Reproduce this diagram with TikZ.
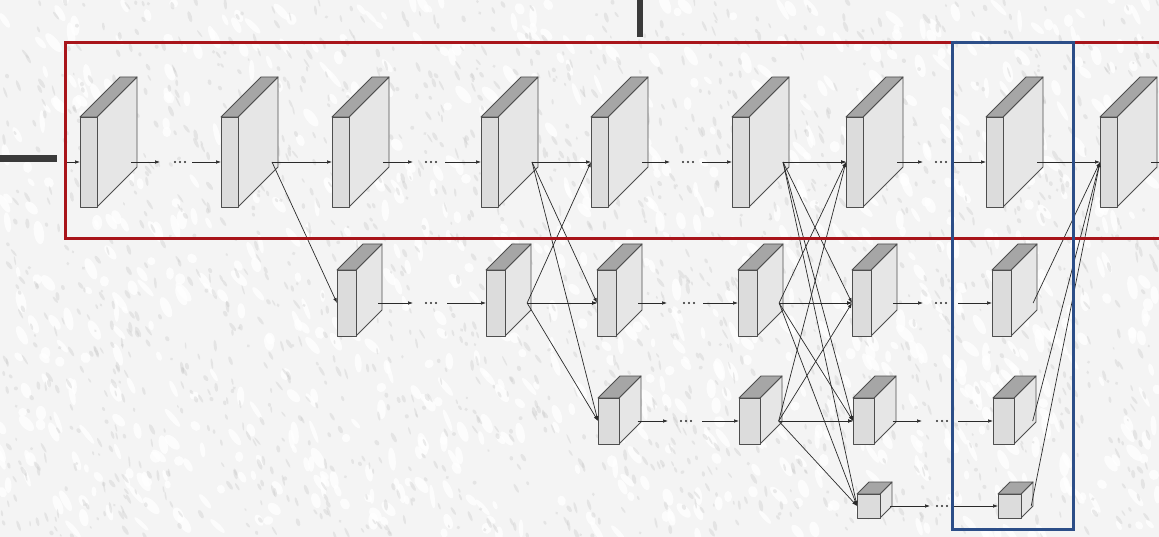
\documentclass[tikz,border=0pt]{standalone}
\usetikzlibrary{arrows.meta,calc}
\definecolor{faceF}{HTML}{DCDCDC}
\definecolor{faceS}{HTML}{E6E6E6}
\definecolor{faceT}{HTML}{A6A6A6}
\definecolor{edge}{HTML}{4E4E4E}
\definecolor{ink}{HTML}{2A2A2A}
\definecolor{stageRed}{HTML}{A8141A}
\definecolor{outBlue}{HTML}{2C4E88}
\definecolor{bar}{HTML}{3A3A3A}
\definecolor{wall}{HTML}{F4F4F4}
\definecolor{speck}{HTML}{C8C8C8}

\tikzset{
  facefront/.style={fill=faceF, draw=edge, line width=0.9pt, line join=round},
  faceside/.style={fill=faceS, draw=edge, line width=0.9pt, line join=round},
  facetop/.style={fill=faceT, draw=edge, line width=0.9pt, line join=round},
  conn/.style={draw=ink, line width=0.7pt, -{Latex[length=5pt,width=3.6pt]}},
  plainconn/.style={draw=ink, line width=0.7pt},
  stageframe/.style={draw=stageRed, line width=3pt},
  outframe/.style={draw=outBlue, line width=3pt},
  gapdot/.style={fill=ink},
}

% feature map block: name, left x, top y, width, height, depth
\newcommand\featmap[6]{%
  \filldraw[faceside] ({#2+#4},{#3}) -- ++({#6},{-#6}) -- ++(0,{#5}) -- ++({-#6},{#6}) -- cycle;
  \filldraw[facetop] ({#2},{#3}) -- ++({#6},{-#6}) -- ++({#4},0) -- ++({-#6},{#6}) -- cycle;
  \filldraw[facefront] ({#2},{#3}) rectangle ++({#4},{#5});
  \coordinate (#1-in) at ({#2},{#3+#5/2});
  \coordinate (#1-out) at ({#2+#4+0.85*#6},{#3+#5/2});
}

% repeated-stage link: arrow, three dots, arrow
\newcommand\dotlink[5]{%
  \draw[conn] (#1-out) -- (#3,0 |- #1-out);
  \foreach \k in {-5,0,5}{\fill[gapdot] ($(#4,0 |- #1-out)+(\k,0)$) circle (1.1);}
  \draw[conn] (#5,0 |- #2-in) -- (#2-in);
}

\begin{document}
\begin{tikzpicture}[x=1pt,y=-1pt]
\useasboundingbox (0,0) rectangle (1159,537);
\clip (0,0) rectangle (1159,537);

% plaster wall backdrop
\fill[wall] (0,0) rectangle (1159,537);
\pgfmathsetseed{4711}
\foreach \i in {1,...,900}{
  \pgfmathsetmacro\px{rnd*1159}
  \pgfmathsetmacro\py{rnd*537}
  \pgfmathsetmacro\ang{-40-rnd*50}
  \pgfmathsetmacro\ra{4+rnd*8}
  \pgfmathsetmacro\rb{2+rnd*3}
  \fill[white, opacity=0.8, rotate around={\ang:(\px,\py)}] (\px,\py) ellipse ({\ra} and {\rb});
}
\foreach \i in {1,...,1800}{
  \pgfmathsetmacro\px{rnd*1159}
  \pgfmathsetmacro\py{rnd*537}
  \pgfmathsetmacro\ang{-50-rnd*35}
  \pgfmathsetmacro\ra{1.5+rnd*4.5}
  \pgfmathsetmacro\rb{0.8+rnd*1.3}
  \fill[speck, opacity=0.35, rotate around={\ang:(\px,\py)}] (\px,\py) ellipse ({\ra} and {\rb});
}

% incoming feeds
\fill[bar] (0,155) rectangle (57,162);
\fill[bar] (637,0) rectangle (643,37);
\coordinate (src) at (64,162);

% stage 1 stream (full resolution)
\featmap{a1}{80}{117}{17}{90}{40}
\featmap{a2}{221}{117}{17}{90}{40}
\featmap{a3}{332}{117}{17}{90}{40}
\featmap{a4}{481}{117}{17}{90}{40}
\featmap{a5}{591}{117}{17}{90}{40}
\featmap{a6}{732}{117}{17}{90}{40}
\featmap{a7}{846}{117}{17}{90}{40}
\featmap{a8}{986}{117}{17}{90}{40}
\featmap{a9}{1100}{117}{17}{90}{40}

% half resolution stream
\featmap{b1}{337}{270}{19}{66}{26}
\featmap{b2}{486}{270}{19}{66}{26}
\featmap{b3}{597}{270}{19}{66}{26}
\featmap{b4}{738}{270}{19}{66}{26}
\featmap{b5}{852}{270}{19}{66}{26}
\featmap{b6}{992}{270}{19}{66}{26}

% quarter resolution stream
\featmap{c1}{598}{398}{21}{46}{22}
\featmap{c2}{739}{398}{21}{46}{22}
\featmap{c3}{853}{398}{21}{46}{22}
\featmap{c4}{993}{398}{21}{46}{22}

% eighth resolution stream
\featmap{d1}{857}{494}{23}{24}{12}
\featmap{d2}{998}{494}{23}{24}{12}

% sequential links
\draw[conn] (src) -- (a1-in);
\dotlink{a1}{a2}{160}{180}{192}
\draw[conn] (a2-out) -- (a3-in);
\dotlink{a3}{a4}{413}{431}{445}
\draw[conn] (a4-out) -- (a5-in);
\dotlink{a5}{a6}{670}{688}{702}
\draw[conn] (a6-out) -- (a7-in);
\dotlink{a7}{a8}{923}{941}{953}
\draw[conn] (a8-out) -- (a9-in);
\coordinate (a9-next) at (1159,162);
\draw[plainconn] (a9-out) -- (a9-next);

\dotlink{b1}{b2}{413}{431}{447}
\draw[conn] (b2-out) -- (b3-in);
\dotlink{b3}{b4}{667}{689}{703}
\draw[conn] (b4-out) -- (b5-in);
\dotlink{b5}{b6}{923}{941}{958}

\dotlink{c1}{c2}{668}{686}{702}
\draw[conn] (c2-out) -- (c3-in);
\dotlink{c3}{c4}{922}{942}{958}

\dotlink{d1}{d2}{930}{942}{953}

% branching into a new resolution
\draw[conn] (a2-out) -- (b1-in);

% exchange unit, two streams to three
\foreach \s in {a4,b2}{
  \foreach \t in {b3,c1}{\draw[conn] (\s-out) -- (\t-in);}
}
\draw[conn] (b2-out) -- (a5-in);

% exchange unit, three streams to four
\foreach \s in {a6,b4,c2}{
  \foreach \t in {a7,b5,c3,d1}{\draw[conn] (\s-out) -- (\t-in);}
}

% final fusion into the full-resolution map
\foreach \s in {b6,c4,d2}{\draw[conn] (\s-out) -- (a9-in);}

% stage and output frames
\draw[stageframe] (65,43) rectangle (1175,239);
\draw[outframe] (952,43) rectangle (1073,529);
\end{tikzpicture}
\end{document}
